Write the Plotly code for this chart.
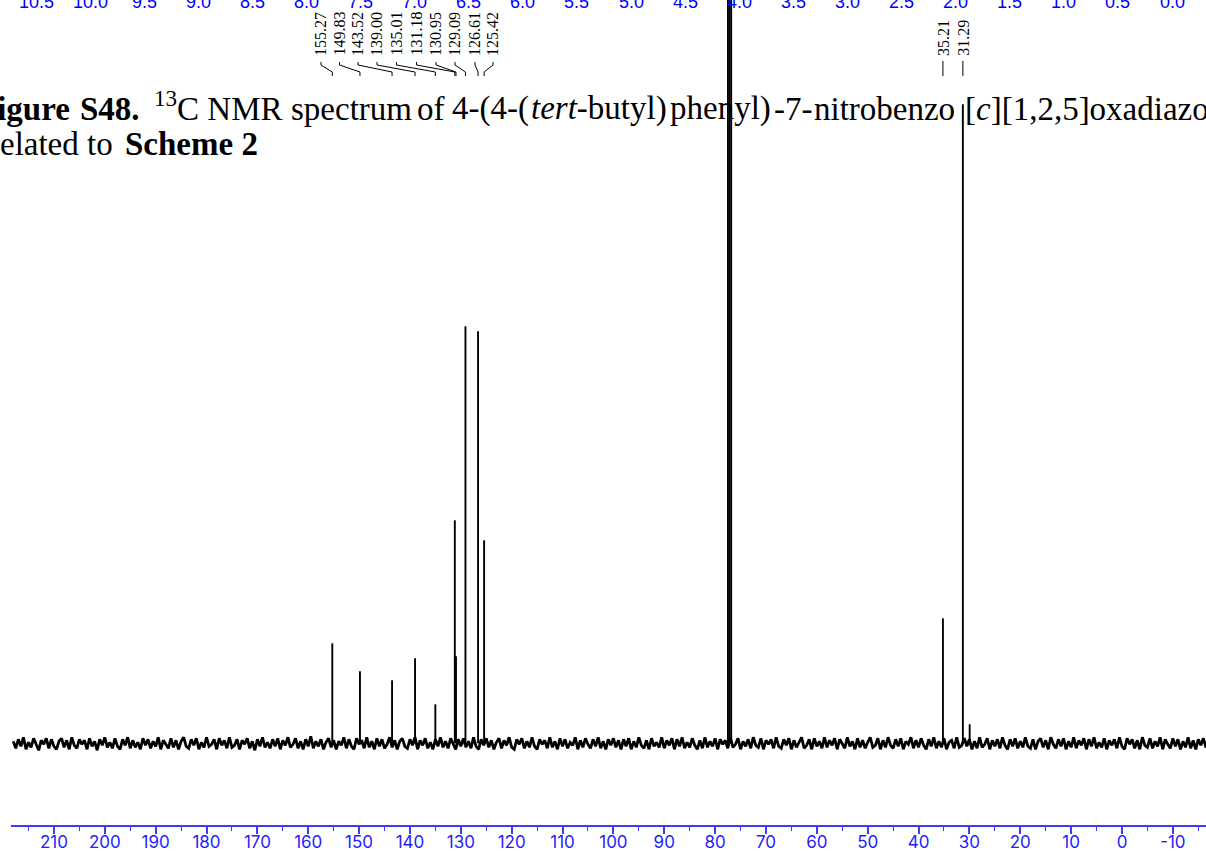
import plotly.graph_objects as go

# ---------------- data ----------------
PEAK_PPM = [155.27, 149.83, 143.52, 139.00, 135.01, 131.18, 130.95, 129.09, 126.61, 125.42,
            77.48, 77.16, 76.84, 35.21, 31.29, 29.95]
PEAK_HEIGHT = [100, 72, 63, 85, 39, 223, 87, 417, 412, 203,
               1000, 1000, 1000, 125, 639, 19]

AROMATIC_LABELS = ["155.27", "149.83", "143.52", "139.00", "135.01",
                   "131.18", "130.95", "129.09", "126.61", "125.42"]
ALIPHATIC_LABELS = ["35.21", "31.29"]

BOTTOM_TICK_VALUES = [210, 200, 190, 180, 170, 160, 150, 140, 130, 120, 110, 100,
                      90, 80, 70, 60, 50, 40, 30, 20, 10, 0, -10]
BOTTOM_TICK_TEXT = ["210", "200", "190", "180", "170", "160", "150", "140", "130", "120",
                    "110", "100", "90", "80", "70", "60", "50", "40", "30", "20", "10",
                    "0", "-10"]

TOP_TICK_VALUES = [10.5, 10.0, 9.5, 9.0, 8.5, 8.0, 7.5, 7.0, 6.5, 6.0, 5.5,
                   5.0, 4.5, 4.0, 3.5, 3.0, 2.5, 2.0, 1.5, 1.0, 0.5, 0.0]
TOP_TICK_TEXT = ["10.5", "10.0", "9.5", "9.0", "8.5", "8.0", "7.5", "7.0", "6.5", "6.0",
                 "5.5", "5.0", "4.5", "4.0", "3.5", "3.0", "2.5", "2.0", "1.5", "1.0",
                 "0.5", "0.0"]

NOISE_START_PPM = 218.0
NOISE_STEP_PPM = 0.5
NOISE = [
    2, -5, 4, -3, 6, -6, 1, -4, 5, -2, -7, 3, -1, 5, -5, 4, -3, -6, 2, 5,
    -4, 3, -6, 6, -2, -5, 4, -1, 3, -6, 5, -3, 2, -7, 4, -2, 6, -4, 1, -5,
    5, -3, -6, 4, -2, 6, -5, 3, -4, 1, -6, 5, -2, 4, -5, 2, -3, 6, -6, 3,
    -1, -5, 5, -4, 3, -6, 2, 6, -3, -5, 4, -2, 5, -6, 1, -4, 6, -3, -1, 4,
    -6, 5, -2, 3, -5, 6, -4, -2, 4, -6, 3, -1, 5, -5, 2, -7, 4, -3, 6, -4,
    1, -5, 4, -3, 5, -6, 3, -2, 6, -4, -1, 5, -5, 2, -6, 4, -3, 7, -5, 2,
    -3, 4, -6, 1, 5, -4, 3, -6, 2, -2, 6, -5, 4, -3, -6, 5, -1, 3, -5, 6,
    -4, 2, -6, 5, -3, 4, -5, -1, 6, -4, 3, -6, 2, 5, -3, -5, 4, -2, 6, -6,
    3, -2, 5, -5, 1, -6, 4, -3, 6, -4, 2, -5, 5, -1, -6, 4, -3, 5, -4, 2,
    -5, 6, -3, -6, 4, -2, 5, -4, 3, -6, 1, 5, -5, 3, -2, 6, -4, -6, 4, -1,
    5, -5, 2, -4, 6, -3, -6, 4, -1, 3, -5, 6, -4, 2, -6, 5, -3, 4, -5, 1,
    -2, 6, -6, 3, -4, 5, -1, -5, 4, -3, 6, -5, 2, -6, 4, -2, 5, -4, 3, -6,
    4, -3, 5, -6, 2, -4, 6, -2, -5, 3, -6, 5, -3, 1, -4, 6, -5, 3, -2, 5,
    -6, 4, -3, 6, -5, 1, -4, 5, -2, -6, 3, -5, 6, -4, 2, -3, 5, -6, 4, -1,
    3, -5, 6, -4, -1, 5, -6, 2, -3, 4, -5, 6, -2, -4, 5, -6, 3, -1, 4, -5,
    6, -3, -5, 4, -2, 5, -6, 3, -4, 1, 6, -5, -2, 4, -6, 5, -3, 2, -5, 6,
    -4, 3, -2, 5, -6, 4, -1, -5, 6, -3, 2, -6, 5, -4, 3, -5, 1, 6, -4, -2,
    5, -6, 3, -4, 6, -2, -5, 4, -3, 5, -6, 2, -1, 6, -5, 3, -4, 5, -2, -6,
    4, -3, 6, -5, 2, -4, 5, -6, 1, 3, -5, 6, -4, -2, 5, -3, 4, -6, 2, -5,
    6, -4, -1, 5, -6, 3, -3, 4, -5, 6, -2, -6, 4, -3, 5, -5, 2, -4, 6, -3,
    -5, 4, -6, 2, 5, -4, 3, -6, 6, -1, -5, 4, -3, 5, -6, 2, -4, 6, -5, 3,
    -2, 5, -6, 4, -3, 6, -5, 1, -4, 5, -6, 3, -2, 4, -5, 6, -3, -6, 5, -1,
    4, -5, 3, -6, 6, -2, -4, 5, -5, 2, -3, 6, -6, 4, -1, -5, 5, -3, 4, -6,
    2, -4, 6, -5, 3, -6, 4, -2, 5, -4, -1, 6, -5, 3, -6, 4, -3, 5, -5, 2,
]

# ---------------- geometry (pixels) ----------------
W, H = 1206, 851
ML, MB = 11, 26
PLOT_W, PLOT_H = W - ML, H - MB
PPM0_PX, PX_PER_PPM = 1122.0, 5.086
BASE_PX = 743.3
TOP_PX_A, TOP_PX_B = 36.0, 1172.0   # pixel of 10.5 and 0.0 on top scale
TOP_PX_PER_UNIT = (TOP_PX_B - TOP_PX_A) / 10.5


def ppm_of_px(px):
    return (PPM0_PX - px) / PX_PER_PPM


def val_of_py(py):
    return BASE_PX - py


def paper_x(px):
    return (px - ML) / PLOT_W


def paper_y(py):
    return (PLOT_H - py) / PLOT_H


fig = go.Figure()

# baseline noise
noise_x = [NOISE_START_PPM - i * NOISE_STEP_PPM for i in range(len(NOISE))]
fig.add_trace(go.Scatter(x=noise_x, y=NOISE, mode="lines",
                         line=dict(color="#000000", width=2.8), hoverinfo="skip"))

# peaks as sticks
px_, py_ = [], []
for p, h in zip(PEAK_PPM, PEAK_HEIGHT):
    px_ += [p, p, None]
    py_ += [0, h, None]
fig.add_trace(go.Scatter(x=px_, y=py_, mode="lines",
                         line=dict(color="#000000", width=1.9), hoverinfo="skip"))

# invisible trace to define the top (1H) scale
fig.add_trace(go.Scatter(x=TOP_TICK_VALUES, y=[0] * len(TOP_TICK_VALUES), xaxis="x2",
                         mode="markers", marker=dict(opacity=0), hoverinfo="skip"))

annotations = []

# peak labels + connectors
label_px = [320, 338.5, 357, 376, 395.5, 415.5, 435, 454, 474, 492]
cx, cy = [], []
for lab, lx in zip(AROMATIC_LABELS, label_px):
    pk = float(lab)
    annotations.append(dict(x=ppm_of_px(lx), y=val_of_py(58), xref="x", yref="y",
                            text=lab, textangle=-90, showarrow=False,
                            xanchor="center", yanchor="bottom",
                            font=dict(family="Liberation Serif", size=16, color="black")))
    cx += [ppm_of_px(lx + 1), ppm_of_px(lx + 1), pk, pk, None]
    cy += [val_of_py(62), val_of_py(65), val_of_py(72), val_of_py(76), None]
for lab in ALIPHATIC_LABELS:
    pk = float(lab)
    annotations.append(dict(x=pk, y=val_of_py(58), xref="x", yref="y",
                            text=lab, textangle=-90, showarrow=False,
                            xanchor="center", yanchor="bottom",
                            font=dict(family="Liberation Serif", size=16, color="black")))
    cx += [pk, pk, None]
    cy += [val_of_py(61), val_of_py(76), None]
fig.add_trace(go.Scatter(x=cx, y=cy, mode="lines", line=dict(color="black", width=1),
                         hoverinfo="skip"))

# top blue (cut-off) scale labels
for v, t in zip(TOP_TICK_VALUES, TOP_TICK_TEXT):
    annotations.append(dict(x=v, y=paper_y(14), xref="x2", yref="paper", text=t,
                            showarrow=False, xanchor="center", yanchor="bottom",
                            font=dict(family="Liberation Sans", size=18, color="#0000ff")))

# caption (segments placed where the reference shows them)
SERIF = "Liberation Serif"
cap = [
    ("<b>Figure</b>", 72, "right", 113),
    ("<b>S48.</b>", 78, "left", 113),
    ("<sup>13</sup>C NMR", 152, "left", 113),
    ("spectrum", 289, "left", 113),
    ("of", 415, "left", 113),
    ("4-(4-(", 450, "left", 113),
    ("<i>tert</i>-butyl)", 529, "left", 113),
    ("phenyl)", 668, "left", 113),
    ("-7-", 772, "left", 113),
    ("nitrobenzo", 812, "left", 113),
    ("[<i>c</i>][1,2,5]oxadiazole", 963, "left", 113),
    ("related to", 115, "right", 148),
    ("<b>Scheme 2</b>", 123, "left", 148),
]
for text, x, anc, base in cap:
    annotations.append(dict(x=paper_x(x), y=paper_y(base + 16), xref="paper", yref="paper",
                            text=text, showarrow=False, xanchor=anc, yanchor="bottom",
                            font=dict(family=SERIF, size=33, color="black")))

fig.update_layout(
    width=W, height=H,
    margin=dict(l=ML, r=0, t=0, b=MB, pad=0, autoexpand=False),
    paper_bgcolor="white", plot_bgcolor="white",
    showlegend=False,
    annotations=annotations,
    xaxis=dict(range=[ppm_of_px(ML), ppm_of_px(W)], showgrid=False, zeroline=False,
               automargin=False,
               showline=True, linecolor="#3c3cff", linewidth=1.5,
               ticks="outside", ticklen=7, tickwidth=1.5, tickcolor="#3c3cff",
               tickvals=BOTTOM_TICK_VALUES, ticktext=BOTTOM_TICK_TEXT,
               ticklabelstandoff=-6,
               tickfont=dict(family="Inter", size=17, color="#1e1eff"),
               minor=dict(dtick=5, tick0=0, ticks="outside", ticklen=4, tickwidth=1.2,
                          tickcolor="#3c3cff", showgrid=False)),
    xaxis2=dict(range=[10.5 + (TOP_PX_A - ML) / TOP_PX_PER_UNIT,
                       0.0 - (W - TOP_PX_B) / TOP_PX_PER_UNIT],
                overlaying="x", side="top", showticklabels=False, showline=False,
                showgrid=False, zeroline=False, ticks="", automargin=False),
    yaxis=dict(range=[val_of_py(PLOT_H), val_of_py(0)], visible=False,
               showgrid=False, zeroline=False, automargin=False),
)

fig.write_html("out.html", config={"displayModeBar": False},
               post_script="document.body.style.margin='0';")
